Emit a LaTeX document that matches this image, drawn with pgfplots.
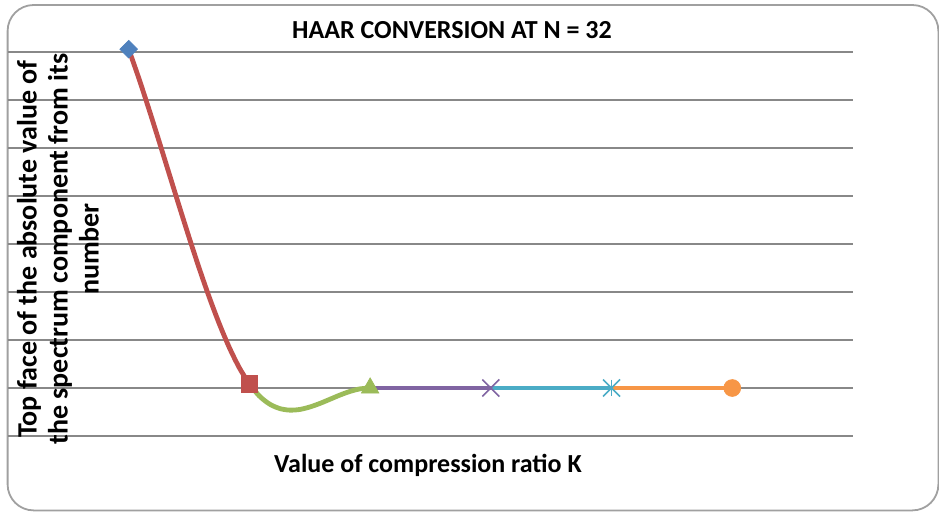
\documentclass[border=0pt]{standalone}
\usepackage{pgfplots}
\pgfplotsset{compat=1.18}
\usepackage{fontspec}
\setmainfont{Carlito}
\definecolor{cblue}{HTML}{4F81BD}
\definecolor{cred}{HTML}{C0504D}
\definecolor{cgreen}{HTML}{9BBB59}
\definecolor{cpurple}{HTML}{8064A2}
\definecolor{cteal}{HTML}{4BACC6}
\definecolor{corange}{HTML}{F79646}
\definecolor{cgrid}{HTML}{888888}
\begin{document}
\begin{tikzpicture}
\path[use as bounding box] (0,0) rectangle (469.5pt,255.5pt);
\draw[cgrid!80, line width=0.9pt, rounded corners=13pt] (3.8pt,0.3pt) rectangle (469.2pt,253pt);
\begin{axis}[at={(4pt,37.5pt)}, anchor=south west, scale only axis,
  width=422.5pt, height=192pt,
  xmin=0, xmax=7, ymin=0, ymax=8,
  axis line style={draw=none},
  xtick=\empty, ytick={0,1,...,8}, yticklabels={},
  major tick length=0pt,
  ymajorgrids, grid style={cgrid, line width=1pt},
  clip=false]
% red segment
\addplot[cred, line width=2.4pt, smooth, tension=0.5] coordinates {
(1,8.06) (1.0833,7.457) (1.1667,6.816) (1.25,6.153) (1.3333,5.478) (1.4167,4.802) (1.5,4.139)
(1.5833,3.499) (1.6667,2.895) (1.75,2.340) (1.8333,1.844) (1.9167,1.420) (2,1.08)};
% green segment
\addplot[cgreen, line width=2.4pt, smooth, tension=0.5] coordinates {
(2,1.08) (2.0833,0.831) (2.1667,0.666) (2.25,0.573) (2.3333,0.539) (2.4167,0.553) (2.5,0.604)
(2.5833,0.678) (2.6667,0.765) (2.75,0.853) (2.8333,0.929) (2.9167,0.982) (3,1.0)};
\addplot[cpurple, line width=2.4pt] coordinates {(3,1.0) (4,1.0)};
\addplot[cteal, line width=2.4pt] coordinates {(4,1.0) (5,1.0)};
\addplot[corange, line width=2.4pt] coordinates {(5,1.0) (6,1.0)};
% markers
\addplot[only marks, mark=square*, mark size=3.1pt, mark options={rotate=45, fill=cblue, draw=cblue}] coordinates {(1,8.06)};
\addplot[only marks, mark=square*, mark size=4.2pt, mark options={fill=cred, draw=cred}] coordinates {(2,1.08)};
\addplot[only marks, mark=triangle*, mark size=5pt, mark options={fill=cgreen, draw=cgreen}] coordinates {(3,1.0)};
\addplot[only marks, mark=x, mark size=6pt, mark options={draw=cpurple, line width=0.8pt}] coordinates {(4,1.0)};
\addplot[only marks, mark=x, mark size=6pt, mark options={draw=cteal, line width=0.8pt}] coordinates {(5,1.0)};
\addplot[only marks, mark=|, mark size=4.2pt, mark options={draw=cteal, line width=0.8pt}] coordinates {(5,1.0)};
\addplot[only marks, mark=*, mark size=4.2pt, mark options={fill=corange, draw=corange}] coordinates {(6,1.0)};
\end{axis}
\node[font={\fontsize{13}{15}\selectfont\bfseries}] at (226pt,240.5pt) {HAAR CONVERSION AT N = 32};
\node[font={\fontsize{13}{15}\selectfont\bfseries}] at (214pt,23pt) {Value of compression ratio K};
\node[rotate=90, align=center, font={\fontsize{14}{15.5}\selectfont\bfseries}] at (29pt,131pt) {Top face of the absolute value of\\the spectrum component from its\\number};
\end{tikzpicture}
\end{document}
